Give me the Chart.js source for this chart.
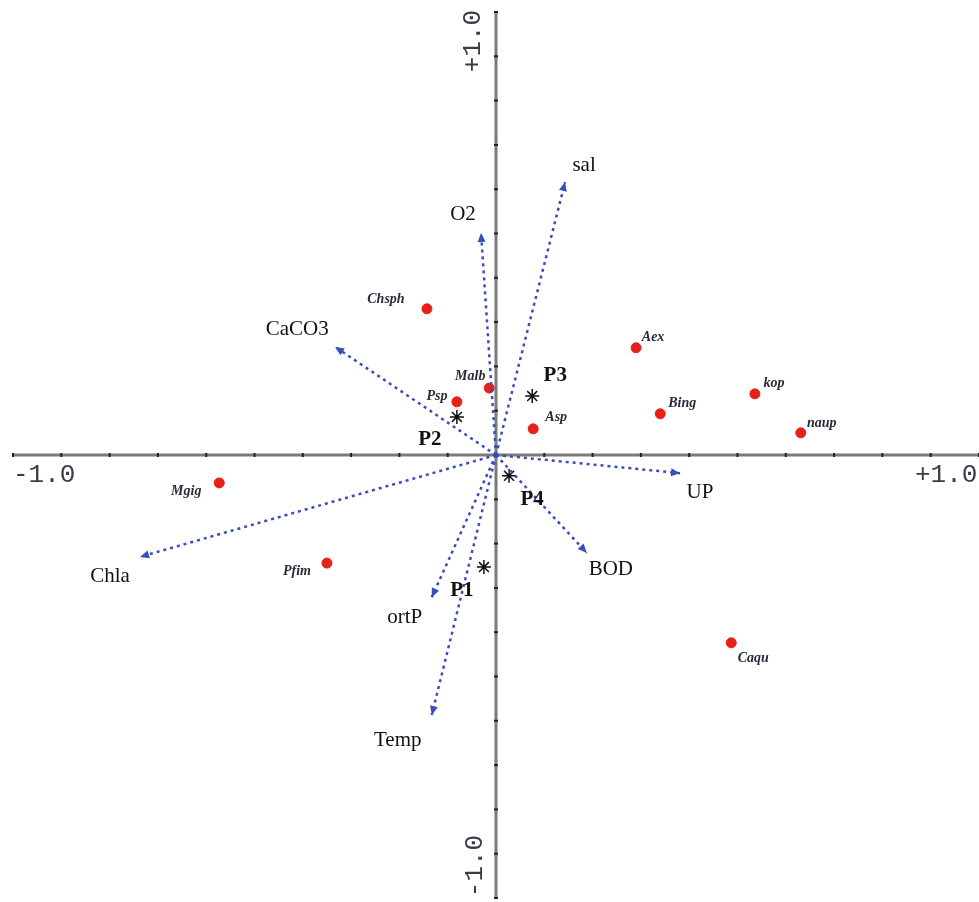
<!DOCTYPE html>
<html lang="en">
<head>
    <meta charset="UTF-8">
    <title>CCA biplot</title>
    <script src="https://cdn.jsdelivr.net/npm/chart.js"></script>
    <style>
        html, body {
            margin: 0;
            padding: 0;
            overflow: hidden;
            background: #fff;
        }
        canvas {
            display: block;
        }
    </style>
</head>
<body>
    <canvas id="ccaChart" width="979" height="902"></canvas>

    <script>
        // species scores
        const speciesNames = ['Chsph', 'Aex', 'Malb', 'Psp', 'Asp', 'Bing', 'kop', 'naup', 'Mgig', 'Pfim', 'Caqu'];
        const speciesX = [-0.143, 0.290, -0.014, -0.081, 0.077, 0.340, 0.536, 0.631, -0.573, -0.350, 0.487];
        const speciesY = [0.330, 0.242, 0.151, 0.120, 0.059, 0.093, 0.138, 0.050, -0.063, -0.244, -0.424];

        // site scores
        const siteNames = ['P1', 'P2', 'P3', 'P4'];
        const siteX = [-0.025, -0.081, 0.075, 0.027];
        const siteY = [-0.253, 0.086, 0.133, -0.047];

        // environmental variables (arrow tips)
        const envNames = ['sal', 'O2', 'CaCO3', 'Chla', 'UP', 'BOD', 'ortP', 'Temp'];
        const envX = [0.143, -0.031, -0.333, -0.737, 0.381, 0.188, -0.133, -0.133];
        const envY = [0.616, 0.501, 0.244, -0.230, -0.041, -0.221, -0.321, -0.587];

        const tickLabels = ['-1.0', '+1.0'];

        const arrowColor = '#3a4dbd';

        // label offsets in px from the mark
        const envLabelOffset = {
            sal: [19, -17], O2: [-18, -19], CaCO3: [-38, -17], Chla: [-30, 20],
            UP: [20, 19], BOD: [24, 17], ortP: [-27, 20], Temp: [-34, 25]
        };
        const speciesLabelOffset = {
            Chsph: [-41, -9], Aex: [17, -10], Malb: [-19, -12], Psp: [-20, -5], Asp: [23, -11],
            Bing: [22, -10], kop: [19, -10], naup: [21, -9], Mgig: [-33, 8], Pfim: [-30, 8], Caqu: [22, 16]
        };
        const siteLabelOffset = {
            P1: [-22, 23], P2: [-27, 23], P3: [23, -21], P4: [23, 24]
        };

        const envDatasets = envNames.map((name, i) => ({
            label: name,
            type: 'line',
            data: [{ x: 0, y: 0 }, { x: envX[i], y: envY[i] }],
            borderColor: arrowColor,
            borderWidth: 2.5,
            borderDash: [3, 4],
            pointRadius: 0,
            fill: false
        }));

        const axesPlugin = {
            id: 'centerAxes',
            beforeDatasetsDraw(chart) {
                const { ctx, scales: { x, y } } = chart;
                const x0 = x.getPixelForValue(0);
                const y0 = y.getPixelForValue(0);
                ctx.save();
                ctx.strokeStyle = '#7a7a7a';
                ctx.lineWidth = 3;
                ctx.beginPath();
                ctx.moveTo(x.getPixelForValue(-1), y0);
                ctx.lineTo(x.getPixelForValue(1), y0);
                ctx.moveTo(x0, y.getPixelForValue(1));
                ctx.lineTo(x0, y.getPixelForValue(-1));
                ctx.stroke();

                // tick marks
                ctx.fillStyle = '#222';
                x.ticks.forEach(t => {
                    const px = x.getPixelForValue(t.value);
                    ctx.fillRect(px - 1, y0 - 2, 2, 4);
                });
                y.ticks.forEach(t => {
                    const py = y.getPixelForValue(t.value);
                    ctx.fillRect(x0 - 2, py - 1, 4, 2);
                });

                // end labels
                ctx.fillStyle = '#3a3a4a';
                ctx.font = '26px "Liberation Mono", monospace';
                ctx.textBaseline = 'middle';
                ctx.textAlign = 'left';
                ctx.fillText(tickLabels[0], x.getPixelForValue(-1), y0 + 20);
                ctx.fillText(tickLabels[1], x.getPixelForValue(1) - 64, y0 + 20);

                ctx.save();
                ctx.translate(x0 - 23, y.getPixelForValue(1) + 29);
                ctx.rotate(-Math.PI / 2);
                ctx.textAlign = 'center';
                ctx.fillText(tickLabels[1], 0, 0);
                ctx.restore();

                ctx.save();
                ctx.translate(x0 - 21, y.getPixelForValue(-1) - 32);
                ctx.rotate(-Math.PI / 2);
                ctx.textAlign = 'center';
                ctx.fillText(tickLabels[0], 0, 0);
                ctx.restore();

                ctx.restore();
            },
            afterDatasetsDraw(chart) {
                const { ctx, scales: { x, y } } = chart;
                const x0 = x.getPixelForValue(0);
                const y0 = y.getPixelForValue(0);
                ctx.save();

                // arrow heads + env labels
                envNames.forEach((name, i) => {
                    const tx = x.getPixelForValue(envX[i]);
                    const ty = y.getPixelForValue(envY[i]);
                    const a = Math.atan2(ty - y0, tx - x0);
                    ctx.fillStyle = arrowColor;
                    ctx.beginPath();
                    ctx.moveTo(tx, ty);
                    ctx.lineTo(tx - 9 * Math.cos(a) + 4 * Math.sin(a), ty - 9 * Math.sin(a) - 4 * Math.cos(a));
                    ctx.lineTo(tx - 9 * Math.cos(a) - 4 * Math.sin(a), ty - 9 * Math.sin(a) + 4 * Math.cos(a));
                    ctx.closePath();
                    ctx.fill();

                    const off = envLabelOffset[name];
                    ctx.fillStyle = '#111';
                    ctx.font = '21px "Liberation Serif", serif';
                    ctx.textAlign = 'center';
                    ctx.textBaseline = 'middle';
                    ctx.fillText(name, tx + off[0], ty + off[1]);
                });

                // species labels
                ctx.font = 'italic bold 14px "Liberation Serif", serif';
                ctx.fillStyle = '#2a2a3a';
                speciesNames.forEach((name, i) => {
                    const off = speciesLabelOffset[name];
                    ctx.fillText(name, x.getPixelForValue(speciesX[i]) + off[0], y.getPixelForValue(speciesY[i]) + off[1]);
                });

                // site labels
                ctx.font = 'bold 21px "Liberation Serif", serif';
                ctx.fillStyle = '#111';
                siteNames.forEach((name, i) => {
                    const off = siteLabelOffset[name];
                    ctx.fillText(name, x.getPixelForValue(siteX[i]) + off[0], y.getPixelForValue(siteY[i]) + off[1]);
                });

                ctx.restore();
            }
        };

        const ctx = document.getElementById('ccaChart').getContext('2d');
        new Chart(ctx, {
            type: 'scatter',
            data: {
                datasets: [
                    ...envDatasets,
                    {
                        label: 'Species',
                        data: speciesX.map((v, i) => ({ x: v, y: speciesY[i] })),
                        backgroundColor: '#e8201a',
                        borderColor: '#e8201a',
                        pointRadius: 5,
                        pointHoverRadius: 5
                    },
                    {
                        label: 'Sites',
                        data: siteX.map((v, i) => ({ x: v, y: siteY[i] })),
                        pointStyle: 'star',
                        backgroundColor: '#111',
                        borderColor: '#111',
                        borderWidth: 1.5,
                        pointRadius: 7,
                        pointHoverRadius: 7
                    }
                ]
            },
            options: {
                responsive: false,
                animation: false,
                devicePixelRatio: 1,
                layout: {
                    autoPadding: false,
                    padding: { left: 13, right: 0, top: 12, bottom: 4 }
                },
                plugins: {
                    legend: { display: false },
                    tooltip: { enabled: false }
                },
                scales: {
                    x: {
                        display: false,
                        min: -1,
                        max: 1,
                        ticks: { stepSize: 0.1 }
                    },
                    y: {
                        display: false,
                        min: -1,
                        max: 1,
                        ticks: { stepSize: 0.1 }
                    }
                }
            },
            plugins: [axesPlugin]
        });
    </script>
</body>
</html>
